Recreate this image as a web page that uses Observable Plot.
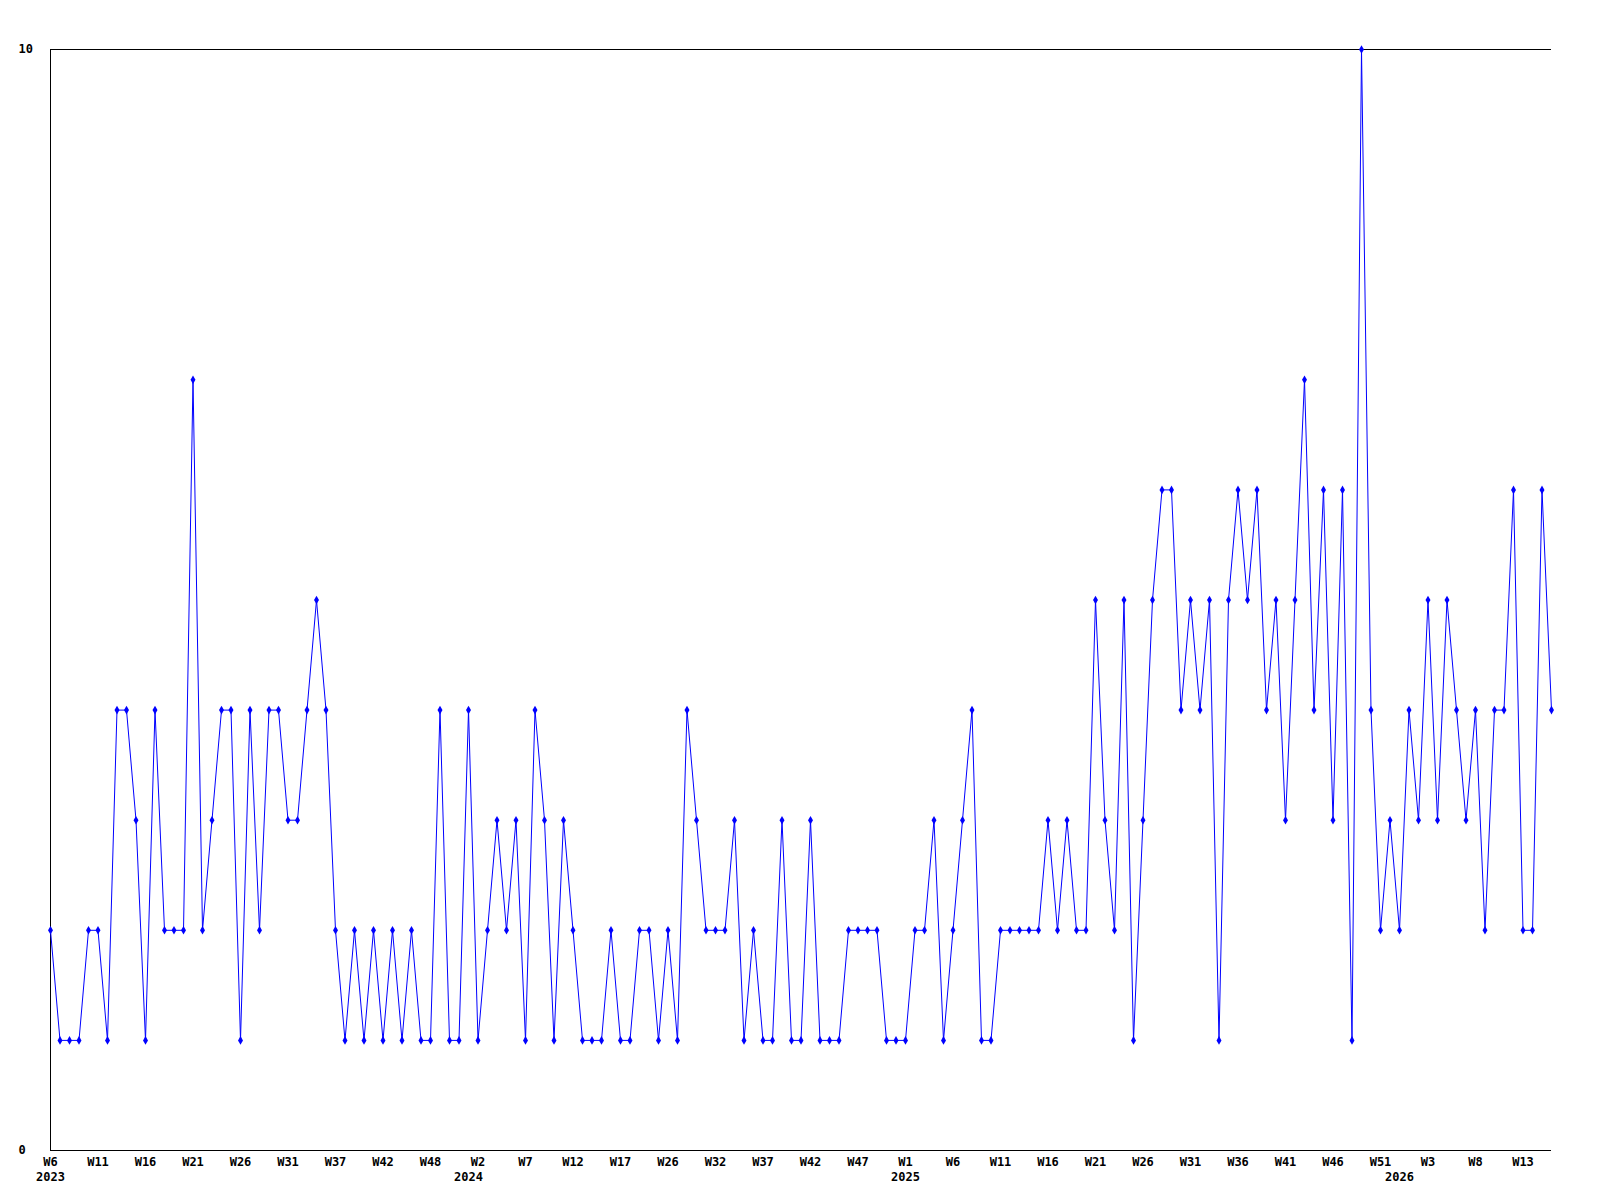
<!DOCTYPE html>
<html>
<head>
<meta charset="utf-8">
<script src="https://cdn.jsdelivr.net/npm/d3@7"></script>
<script src="https://cdn.jsdelivr.net/npm/@observablehq/plot@0.6"></script>
<style>
  html, body { margin: 0; padding: 0; background: #fff; }
</style>
</head>
<body>
<div id="chart"></div>
<script>
// ---- data ----
const years = [2023, 2024, 2025, 2026];

const weeks2023 = [6, 7, 8, 9, 10, 11, 12, 13, 14, 15, 16, 17, 18, 19, 20, 21, 22, 23, 24, 25, 26, 27, 28, 29, 30, 31,
  32, 33, 35, 36, 37, 38, 39, 40, 41, 42, 43, 44, 45, 47, 48, 49, 50, 51];
const weeks2024 = [1, 2, 3, 4, 5, 6, 7, 8, 9, 10, 11, 12, 13, 14, 15, 16, 17, 19, 21, 23, 25, 26, 27, 28, 29, 31,
  32, 33, 34, 35, 36, 37, 38, 39, 40, 41, 42, 43, 44, 45, 46, 47, 48, 49, 51, 52];
const weeks2025 = [1, 2, 3, 4, 5, 6, 7, 8, 9, 10, 11, 12, 13, 14, 15, 16, 17, 18, 19, 20, 21, 22, 23, 24, 25, 26,
  27, 28, 29, 30, 31, 32, 33, 34, 35, 36, 37, 38, 39, 40, 41, 42, 43, 44, 45, 46, 47, 48, 49, 50, 51, 52];
const weeks2026 = [0, 1, 2, 3, 4, 5, 6, 7, 8, 9, 10, 11, 12, 13, 14, 15, 16];

const values = [
  2, 1, 1, 1, 2, 2, 1, 4, 4, 3,
  1, 4, 2, 2, 2, 7, 2, 3, 4, 4,
  1, 4, 2, 4, 4, 3, 3, 4, 5, 4,
  2, 1, 2, 1, 2, 1, 2, 1, 2, 1,
  1, 4, 1, 1, 4, 1, 2, 3, 2, 3,
  1, 4, 3, 1, 3, 2, 1, 1, 1, 2,
  1, 1, 2, 2, 1, 2, 1, 4, 3, 2,
  2, 2, 3, 1, 2, 1, 1, 3, 1, 1,
  3, 1, 1, 1, 2, 2, 2, 2, 1, 1,
  1, 2, 2, 3, 1, 2, 3, 4, 1, 1,
  2, 2, 2, 2, 2, 3, 2, 3, 2, 2,
  5, 3, 2, 5, 1, 3, 5, 6, 6, 4,
  5, 4, 5, 1, 5, 6, 5, 6, 4, 5,
  3, 5, 7, 4, 6, 3, 6, 1, 10, 4,
  2, 3, 2, 4, 3, 5, 3, 5, 4, 3,
  4, 2, 4, 4, 6, 2, 2, 6, 4
];

const yTicks = [0, 10];

// ---- build table ----
const weekLists = [weeks2023, weeks2024, weeks2025, weeks2026];
const data = [];
weekLists.forEach((ws, k) => ws.forEach(w => {
  data.push({ year: years[k], week: w, key: `${years[k]}-W${String(w).padStart(2, "0")}` });
}));
data.forEach((d, i) => { d.value = values[i]; });

const keys = data.map(d => d.key);
const byKey = new Map(data.map(d => [d.key, d]));
const tickKeys = keys.filter((k, i) => i % 5 === 0);
const yearKeys = years.map(y => data.find(d => d.year === y).key);

const chart = Plot.plot({
  width: 1600,
  height: 1200,
  marginLeft: 50,
  marginRight: 49,
  marginTop: 49,
  marginBottom: 50,
  style: {
    fontFamily: "'DejaVu Sans Mono', monospace",
    fontSize: "12px",
    fontWeight: "bold",
    color: "#000",
    background: "#fff"
  },
  x: { type: "point", domain: keys, padding: 0 },
  y: { domain: [0, 10] },
  marks: [
    Plot.ruleY(yTicks, { stroke: "#000", strokeWidth: 1 }),
    Plot.ruleX([keys[0]], { y1: 0, y2: 10, stroke: "#000", strokeWidth: 1 }),
    Plot.line(data, { x: "key", y: "value", stroke: "#0000ff", strokeWidth: 1 }),
    Plot.dot(data, { x: "key", y: "value", symbol: "diamond", r: 2.6, fill: "#0000ff", stroke: "none" }),
    Plot.axisX({ ticks: tickKeys, tickFormat: k => "W" + byKey.get(k).week, tickSize: 0, tickPadding: 7, label: null }),
    Plot.axisX({ ticks: yearKeys, tickFormat: k => String(byKey.get(k).year), tickSize: 0, tickPadding: 22, label: null }),
    Plot.axisY({ ticks: yTicks, tickFormat: d => String(d), tickSize: 0, tickPadding: 32, textAnchor: "start", label: null })
  ]
});

document.getElementById("chart").appendChild(chart);
</script>
</body>
</html>
